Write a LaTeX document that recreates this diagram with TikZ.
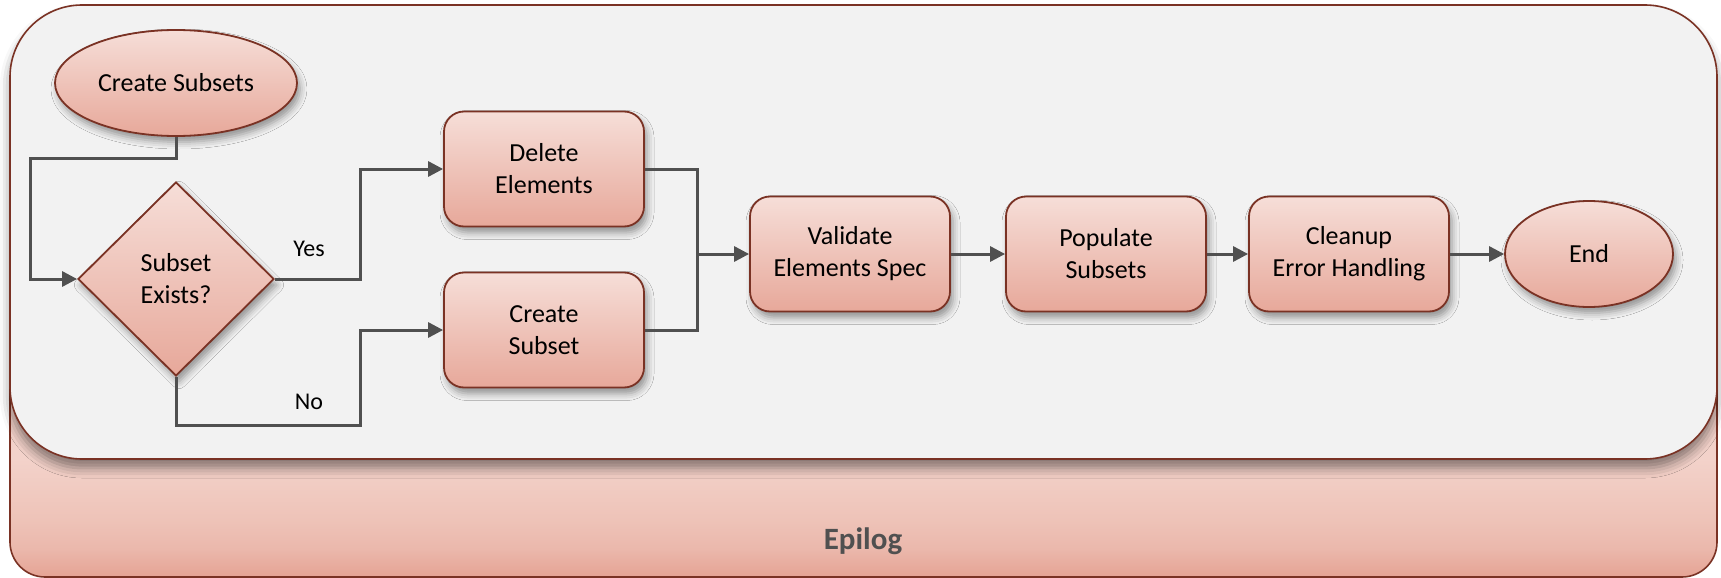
\documentclass[tikz,border=0pt]{standalone}
\usepackage{fontspec}
\setmainfont{Carlito}
\usetikzlibrary{shapes.geometric,arrows.meta,shadows.blur}
\definecolor{bord}{RGB}{122,50,36}
\definecolor{ftop}{RGB}{246,222,216}
\definecolor{fbot}{RGB}{231,168,154}
\definecolor{oa}{RGB}{243,210,202}
\definecolor{ob}{RGB}{238,195,184}
\definecolor{oc}{RGB}{235,184,172}
\definecolor{od}{RGB}{229,163,148}
\definecolor{panel}{RGB}{242,242,242}
\definecolor{conncol}{RGB}{80,80,80}
% outer panel spans y=100..577 (height 477); y=459 -> 25+118/477*50 = 37.4bp
\pgfdeclareverticalshading{outershade}{100bp}{color(0bp)=(od); color(25bp)=(od); color(28bp)=(oc); color(31bp)=(ob); color(37.4bp)=(oa); color(100bp)=(oa)}
\tikzset{
  shape base/.style={draw=bord, line width=1.8pt, top color=ftop, bottom color=fbot,
    font=\fontsize{26}{32}\selectfont, align=center, inner sep=0pt,
    blur shadow={shadow xshift=3pt, shadow yshift=-6pt, shadow blur radius=7pt, shadow opacity=40}},
  procbox/.style={shape base, rectangle, rounded corners=20pt, minimum width=200pt, minimum height=115pt},
  termnode/.style={shape base, ellipse},
  decnode/.style={shape base, diamond, minimum width=196pt, minimum height=194pt},
  line/.style={draw=conncol, line width=3pt, line join=miter},
  conn/.style={line, -{Triangle[length=15pt,width=15pt]}},
  lbl/.style={font=\fontsize{24}{29}\selectfont, inner sep=0pt},
}
\begin{document}
\begin{tikzpicture}[x=1pt,y=-1pt]
\useasboundingbox (0,0) rectangle (1721,578);
% outer panel (its top is hidden behind the inner panel)
\path[draw=bord, line width=1.6pt, shading=outershade, rounded corners=35pt]
  (10,100) rectangle (1717,577);
\node[font=\fontsize{31}{37}\selectfont\bfseries, text=conncol] (ep) at (863,541) {Epilog};
% inner panel
\path[draw=bord, line width=1.6pt, fill=panel, rounded corners=72pt,
  blur shadow={shadow xshift=0pt, shadow yshift=-9pt, shadow blur radius=10pt, shadow opacity=45}]
  (10,5) rectangle (1717,459);
% nodes
\node[termnode, minimum width=242pt, minimum height=106pt] (cs) at (176,83) {Create Subsets};
\node[decnode] (d) at (176,279) {Subset\\Exists?};
\node[procbox] (del) at (544,169) {Delete\\Elements};
\node[procbox] (cr) at (544,330) {Create\\Subset};
\node[procbox] (val) at (850,254) {Validate\\Elements Spec};
\node[procbox] (pop) at (1106,254) {Populate\\Subsets};
\node[procbox] (cl) at (1349,254) {Cleanup\\Error Handling};
\node[termnode, minimum width=168pt, minimum height=106pt] (end) at (1589,254) {End};
% junctions
\coordinate (c1) at (30,158);
\coordinate (jy) at (360,169);
\coordinate (jn) at (360,425);
\coordinate (jm) at (697,254);
% connectors
\draw[conn] (cs.south) |- (c1) |- (d.west);
\draw[conn] (d.east) -| (jy) -- (del.west);
\draw[conn] (d.south) |- (jn) |- (cr.west);
\draw[line] (del.east) -| (jm);
\draw[line] (cr.east) -| (jm);
\draw[conn] (jm) -- (val.west);
\draw[conn] (val) -- (pop);
\draw[conn] (pop) -- (cl);
\draw[conn] (cl) -- (end);
% labels
\node[lbl] (yes) at (309,249) {Yes};
\node[lbl] (no) at (309,402) {No};
\end{tikzpicture}
\end{document}
